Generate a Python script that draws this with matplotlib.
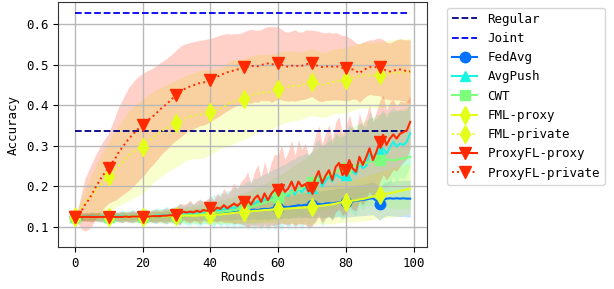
import numpy as np
import matplotlib
matplotlib.use("Agg")
import matplotlib.pyplot as plt

plt.rcParams["font.family"] = "DejaVu Sans Mono"
plt.rcParams["font.size"] = 9

rounds = np.arange(100)

regular_acc = 0.337
joint_acc = 0.627

fedavg_mean = [
    0.125, 0.125, 0.124, 0.125, 0.125, 0.126, 0.125, 0.125, 0.125, 0.126,
    0.125, 0.125, 0.126, 0.125, 0.126, 0.126, 0.125, 0.126, 0.126, 0.126,
    0.126, 0.126, 0.127, 0.126, 0.127, 0.127, 0.127, 0.128, 0.127, 0.128,
    0.128, 0.128, 0.129, 0.128, 0.129, 0.130, 0.130, 0.131, 0.131, 0.132,
    0.133, 0.134, 0.133, 0.135, 0.136, 0.137, 0.136, 0.138, 0.139, 0.140,
    0.141, 0.140, 0.142, 0.143, 0.142, 0.144, 0.145, 0.144, 0.146, 0.147,
    0.147, 0.148, 0.150, 0.149, 0.151, 0.152, 0.154, 0.153, 0.155, 0.154,
    0.154, 0.156, 0.157, 0.156, 0.158, 0.159, 0.158, 0.160, 0.161, 0.160,
    0.161, 0.162, 0.163, 0.165, 0.166, 0.167, 0.168, 0.170, 0.171, 0.165,
    0.158, 0.166, 0.170, 0.171, 0.170, 0.171, 0.170, 0.171, 0.170, 0.170]
fedavg_std = [
    0.006, 0.007, 0.008, 0.007, 0.008, 0.007, 0.008, 0.009, 0.008, 0.009,
    0.008, 0.009, 0.010, 0.009, 0.010, 0.009, 0.010, 0.011, 0.010, 0.011,
    0.010, 0.011, 0.012, 0.011, 0.012, 0.011, 0.012, 0.013, 0.012, 0.013,
    0.012, 0.013, 0.014, 0.013, 0.014, 0.014, 0.015, 0.015, 0.016, 0.016,
    0.016, 0.017, 0.017, 0.018, 0.018, 0.019, 0.019, 0.020, 0.020, 0.021,
    0.021, 0.022, 0.022, 0.023, 0.023, 0.024, 0.024, 0.025, 0.025, 0.026,
    0.026, 0.027, 0.027, 0.028, 0.028, 0.029, 0.029, 0.030, 0.030, 0.031,
    0.031, 0.032, 0.032, 0.033, 0.033, 0.034, 0.034, 0.035, 0.035, 0.036,
    0.036, 0.037, 0.037, 0.038, 0.038, 0.039, 0.039, 0.040, 0.040, 0.041,
    0.041, 0.042, 0.042, 0.043, 0.043, 0.044, 0.044, 0.045, 0.045, 0.046]

avgpush_mean = [
    0.125, 0.126, 0.125, 0.126, 0.125, 0.126, 0.126, 0.125, 0.126, 0.126,
    0.126, 0.126, 0.127, 0.126, 0.127, 0.127, 0.126, 0.127, 0.127, 0.128,
    0.127, 0.128, 0.128, 0.127, 0.128, 0.129, 0.128, 0.129, 0.130, 0.129,
    0.130, 0.131, 0.132, 0.131, 0.133, 0.134, 0.133, 0.136, 0.135, 0.138,
    0.140, 0.138, 0.143, 0.141, 0.146, 0.143, 0.149, 0.146, 0.152, 0.150,
    0.155, 0.153, 0.160, 0.156, 0.165, 0.160, 0.170, 0.163, 0.175, 0.168,
    0.175, 0.172, 0.182, 0.176, 0.190, 0.180, 0.195, 0.185, 0.198, 0.186,
    0.196, 0.210, 0.226, 0.200, 0.213, 0.226, 0.212, 0.230, 0.224, 0.220,
    0.228, 0.249, 0.236, 0.230, 0.257, 0.245, 0.250, 0.281, 0.273, 0.268,
    0.285, 0.294, 0.281, 0.296, 0.310, 0.298, 0.306, 0.302, 0.310, 0.331]
avgpush_std = [
    0.008, 0.010, 0.012, 0.009, 0.011, 0.013, 0.010, 0.012, 0.014, 0.011,
    0.012, 0.015, 0.011, 0.013, 0.016, 0.012, 0.014, 0.017, 0.013, 0.016,
    0.014, 0.018, 0.013, 0.016, 0.020, 0.015, 0.018, 0.022, 0.016, 0.020,
    0.022, 0.028, 0.020, 0.025, 0.030, 0.022, 0.028, 0.034, 0.025, 0.030,
    0.034, 0.042, 0.032, 0.044, 0.036, 0.048, 0.040, 0.052, 0.044, 0.054,
    0.050, 0.060, 0.052, 0.064, 0.056, 0.068, 0.060, 0.072, 0.064, 0.076,
    0.070, 0.080, 0.072, 0.084, 0.076, 0.088, 0.080, 0.092, 0.084, 0.094,
    0.088, 0.098, 0.090, 0.100, 0.092, 0.102, 0.094, 0.104, 0.096, 0.104,
    0.098, 0.106, 0.100, 0.104, 0.098, 0.104, 0.096, 0.102, 0.094, 0.098,
    0.092, 0.096, 0.088, 0.092, 0.086, 0.088, 0.082, 0.084, 0.080, 0.078]

cwt_mean = [
    0.125, 0.124, 0.125, 0.125, 0.124, 0.125, 0.125, 0.125, 0.124, 0.125,
    0.125, 0.125, 0.124, 0.125, 0.125, 0.125, 0.126, 0.125, 0.125, 0.126,
    0.126, 0.126, 0.125, 0.126, 0.126, 0.127, 0.126, 0.127, 0.127, 0.128,
    0.128, 0.128, 0.129, 0.129, 0.130, 0.130, 0.131, 0.132, 0.132, 0.133,
    0.134, 0.135, 0.136, 0.136, 0.138, 0.139, 0.140, 0.142, 0.143, 0.145,
    0.147, 0.148, 0.150, 0.152, 0.155, 0.157, 0.160, 0.163, 0.166, 0.170,
    0.174, 0.176, 0.179, 0.183, 0.186, 0.190, 0.193, 0.197, 0.201, 0.205,
    0.212, 0.214, 0.218, 0.221, 0.224, 0.228, 0.232, 0.236, 0.240, 0.243,
    0.246, 0.248, 0.250, 0.252, 0.254, 0.256, 0.258, 0.260, 0.262, 0.264,
    0.265, 0.266, 0.265, 0.266, 0.264, 0.266, 0.268, 0.269, 0.271, 0.273]
cwt_std = [
    0.007, 0.008, 0.009, 0.008, 0.009, 0.010, 0.009, 0.010, 0.011, 0.010,
    0.011, 0.012, 0.011, 0.012, 0.013, 0.012, 0.013, 0.014, 0.013, 0.014,
    0.014, 0.015, 0.014, 0.016, 0.015, 0.017, 0.016, 0.018, 0.017, 0.019,
    0.019, 0.021, 0.020, 0.022, 0.021, 0.023, 0.022, 0.024, 0.024, 0.026,
    0.026, 0.028, 0.027, 0.030, 0.029, 0.032, 0.031, 0.034, 0.034, 0.037,
    0.037, 0.040, 0.040, 0.043, 0.043, 0.046, 0.046, 0.049, 0.050, 0.053,
    0.053, 0.056, 0.057, 0.060, 0.061, 0.064, 0.065, 0.068, 0.069, 0.072,
    0.073, 0.076, 0.077, 0.080, 0.081, 0.084, 0.085, 0.088, 0.089, 0.092,
    0.093, 0.096, 0.097, 0.100, 0.101, 0.104, 0.105, 0.108, 0.109, 0.112,
    0.113, 0.115, 0.116, 0.118, 0.119, 0.121, 0.122, 0.124, 0.125, 0.127]

fml_proxy_mean = [
    0.125, 0.125, 0.125, 0.124, 0.125, 0.125, 0.125, 0.125, 0.125, 0.125,
    0.125, 0.125, 0.125, 0.125, 0.125, 0.126, 0.125, 0.126, 0.126, 0.126,
    0.126, 0.126, 0.126, 0.126, 0.127, 0.127, 0.127, 0.127, 0.127, 0.127,
    0.127, 0.127, 0.128, 0.128, 0.128, 0.128, 0.128, 0.129, 0.129, 0.129,
    0.130, 0.130, 0.131, 0.131, 0.132, 0.133, 0.134, 0.135, 0.136, 0.137,
    0.138, 0.138, 0.139, 0.140, 0.140, 0.141, 0.142, 0.142, 0.143, 0.144,
    0.144, 0.145, 0.145, 0.146, 0.146, 0.147, 0.147, 0.148, 0.148, 0.149,
    0.150, 0.151, 0.152, 0.153, 0.154, 0.155, 0.156, 0.158, 0.160, 0.161,
    0.163, 0.164, 0.165, 0.166, 0.168, 0.169, 0.171, 0.173, 0.175, 0.177,
    0.179, 0.180, 0.182, 0.184, 0.185, 0.187, 0.189, 0.191, 0.193, 0.195]
fml_proxy_std = [
    0.006, 0.007, 0.006, 0.007, 0.007, 0.008, 0.007, 0.008, 0.008, 0.008,
    0.008, 0.009, 0.008, 0.009, 0.009, 0.010, 0.009, 0.010, 0.010, 0.010,
    0.011, 0.011, 0.011, 0.012, 0.012, 0.012, 0.013, 0.013, 0.013, 0.014,
    0.014, 0.015, 0.015, 0.016, 0.016, 0.017, 0.017, 0.018, 0.018, 0.019,
    0.019, 0.020, 0.021, 0.021, 0.022, 0.023, 0.023, 0.024, 0.025, 0.026,
    0.026, 0.027, 0.028, 0.029, 0.030, 0.030, 0.031, 0.032, 0.033, 0.034,
    0.035, 0.035, 0.036, 0.037, 0.038, 0.039, 0.040, 0.040, 0.041, 0.042,
    0.043, 0.044, 0.044, 0.045, 0.046, 0.047, 0.048, 0.048, 0.049, 0.050,
    0.051, 0.051, 0.052, 0.053, 0.054, 0.054, 0.055, 0.056, 0.056, 0.057,
    0.058, 0.058, 0.059, 0.060, 0.060, 0.061, 0.061, 0.062, 0.062, 0.063]

fml_private_mean = [
    0.125, 0.135, 0.146, 0.158, 0.168, 0.178, 0.188, 0.198, 0.207, 0.216,
    0.225, 0.234, 0.243, 0.252, 0.260, 0.268, 0.276, 0.283, 0.289, 0.294,
    0.298, 0.306, 0.313, 0.320, 0.326, 0.332, 0.337, 0.342, 0.347, 0.351,
    0.355, 0.360, 0.365, 0.369, 0.372, 0.374, 0.376, 0.377, 0.378, 0.381,
    0.384, 0.386, 0.389, 0.392, 0.396, 0.401, 0.406, 0.409, 0.411, 0.413,
    0.415, 0.419, 0.423, 0.427, 0.429, 0.430, 0.432, 0.432, 0.434, 0.437,
    0.440, 0.443, 0.445, 0.446, 0.447, 0.448, 0.447, 0.449, 0.452, 0.455,
    0.456, 0.455, 0.452, 0.450, 0.451, 0.454, 0.457, 0.459, 0.460, 0.461,
    0.462, 0.464, 0.467, 0.470, 0.472, 0.473, 0.474, 0.473, 0.474, 0.474,
    0.475, 0.476, 0.478, 0.478, 0.479, 0.481, 0.480, 0.481, 0.482, 0.483]
fml_private_std = [
    0.005, 0.015, 0.025, 0.035, 0.044, 0.052, 0.060, 0.067, 0.074, 0.080,
    0.085, 0.090, 0.095, 0.099, 0.103, 0.107, 0.110, 0.112, 0.114, 0.115,
    0.116, 0.115, 0.114, 0.112, 0.111, 0.110, 0.109, 0.108, 0.108, 0.107,
    0.107, 0.106, 0.105, 0.104, 0.105, 0.106, 0.107, 0.108, 0.108, 0.106,
    0.105, 0.103, 0.101, 0.099, 0.100, 0.102, 0.104, 0.103, 0.101, 0.100,
    0.100, 0.099, 0.098, 0.097, 0.096, 0.095, 0.094, 0.093, 0.092, 0.091,
    0.090, 0.089, 0.088, 0.087, 0.086, 0.085, 0.084, 0.083, 0.083, 0.082,
    0.082, 0.081, 0.081, 0.080, 0.080, 0.080, 0.080, 0.080, 0.080, 0.080,
    0.080, 0.080, 0.080, 0.080, 0.080, 0.081, 0.081, 0.081, 0.081, 0.081,
    0.081, 0.081, 0.082, 0.082, 0.082, 0.082, 0.082, 0.082, 0.082, 0.082]

proxyfl_proxy_mean = [
    0.125, 0.125, 0.125, 0.125, 0.125, 0.125, 0.125, 0.125, 0.125, 0.125,
    0.125, 0.125, 0.125, 0.125, 0.125, 0.126, 0.125, 0.126, 0.126, 0.126,
    0.126, 0.126, 0.126, 0.127, 0.127, 0.127, 0.128, 0.128, 0.129, 0.129,
    0.130, 0.132, 0.138, 0.136, 0.138, 0.136, 0.140, 0.137, 0.142, 0.140,
    0.146, 0.140, 0.148, 0.145, 0.154, 0.146, 0.152, 0.158, 0.152, 0.160,
    0.162, 0.168, 0.155, 0.170, 0.178, 0.162, 0.183, 0.166, 0.182, 0.192,
    0.191, 0.206, 0.187, 0.195, 0.212, 0.190, 0.212, 0.200, 0.206, 0.188,
    0.196, 0.220, 0.238, 0.208, 0.226, 0.240, 0.216, 0.248, 0.258, 0.228,
    0.240, 0.265, 0.245, 0.236, 0.273, 0.253, 0.272, 0.294, 0.265, 0.285,
    0.310, 0.327, 0.302, 0.318, 0.328, 0.318, 0.330, 0.334, 0.338, 0.359]
proxyfl_proxy_std = [
    0.008, 0.010, 0.009, 0.011, 0.010, 0.012, 0.010, 0.011, 0.012, 0.010,
    0.011, 0.013, 0.010, 0.012, 0.014, 0.011, 0.013, 0.015, 0.012, 0.014,
    0.013, 0.016, 0.012, 0.015, 0.017, 0.013, 0.016, 0.019, 0.015, 0.018,
    0.020, 0.026, 0.018, 0.022, 0.028, 0.020, 0.025, 0.030, 0.022, 0.027,
    0.030, 0.026, 0.036, 0.030, 0.042, 0.034, 0.040, 0.050, 0.042, 0.052,
    0.058, 0.068, 0.052, 0.066, 0.076, 0.060, 0.080, 0.064, 0.078, 0.088,
    0.085, 0.096, 0.080, 0.090, 0.102, 0.086, 0.104, 0.092, 0.100, 0.088,
    0.094, 0.106, 0.112, 0.098, 0.104, 0.112, 0.100, 0.110, 0.114, 0.100,
    0.104, 0.112, 0.102, 0.096, 0.108, 0.098, 0.100, 0.106, 0.094, 0.098,
    0.100, 0.098, 0.086, 0.090, 0.086, 0.080, 0.080, 0.074, 0.070, 0.064]

proxyfl_private_mean = [
    0.125, 0.128, 0.140, 0.155, 0.166, 0.180, 0.196, 0.210, 0.224, 0.235,
    0.245, 0.258, 0.270, 0.285, 0.296, 0.307, 0.318, 0.327, 0.336, 0.344,
    0.351, 0.358, 0.366, 0.372, 0.380, 0.388, 0.396, 0.402, 0.410, 0.418,
    0.425, 0.432, 0.438, 0.443, 0.446, 0.449, 0.452, 0.455, 0.456, 0.459,
    0.462, 0.466, 0.470, 0.474, 0.478, 0.481, 0.483, 0.486, 0.488, 0.490,
    0.493, 0.495, 0.496, 0.497, 0.496, 0.499, 0.501, 0.503, 0.500, 0.502,
    0.504, 0.500, 0.496, 0.495, 0.497, 0.498, 0.496, 0.497, 0.500, 0.502,
    0.503, 0.499, 0.496, 0.494, 0.495, 0.496, 0.495, 0.496, 0.494, 0.492,
    0.491, 0.489, 0.488, 0.484, 0.479, 0.485, 0.490, 0.494, 0.493, 0.494,
    0.494, 0.489, 0.485, 0.483, 0.485, 0.487, 0.488, 0.486, 0.484, 0.483]
proxyfl_private_std = [
    0.005, 0.020, 0.045, 0.065, 0.072, 0.077, 0.079, 0.081, 0.083, 0.084,
    0.086, 0.095, 0.104, 0.112, 0.117, 0.122, 0.127, 0.128, 0.129, 0.128,
    0.127, 0.125, 0.121, 0.119, 0.117, 0.115, 0.113, 0.112, 0.111, 0.110,
    0.111, 0.112, 0.111, 0.109, 0.108, 0.107, 0.106, 0.105, 0.105, 0.104,
    0.102, 0.101, 0.100, 0.099, 0.097, 0.095, 0.092, 0.090, 0.088, 0.087,
    0.088, 0.089, 0.091, 0.088, 0.089, 0.087, 0.090, 0.091, 0.093, 0.091,
    0.089, 0.087, 0.085, 0.085, 0.086, 0.088, 0.084, 0.083, 0.085, 0.083,
    0.082, 0.084, 0.086, 0.085, 0.083, 0.084, 0.082, 0.083, 0.081, 0.080,
    0.080, 0.077, 0.073, 0.069, 0.072, 0.070, 0.068, 0.067, 0.068, 0.070,
    0.071, 0.073, 0.070, 0.070, 0.072, 0.074, 0.076, 0.075, 0.077, 0.078]

# name, mean, std, colour, marker, linestyle
series = [
    ("FedAvg", fedavg_mean, fedavg_std, "#0072ff", "o", "-"),
    ("AvgPush", avgpush_mean, avgpush_std, "#1af5e3", "^", "-"),
    ("CWT", cwt_mean, cwt_std, "#7dff7d", "s", "-"),
    ("FML-proxy", fml_proxy_mean, fml_proxy_std, "#e3ff1a", "d", "-"),
    ("FML-private", fml_private_mean, fml_private_std, "#e3ff1a", "d", ":"),
    ("ProxyFL-proxy", proxyfl_proxy_mean, proxyfl_proxy_std, "#ff2a00", "v", "-"),
    ("ProxyFL-private", proxyfl_private_mean, proxyfl_private_std, "#ff2a00", "v", ":"),
]
marker_sizes = {"o": 7.5, "^": 7.5, "s": 6.5, "d": 9, "v": 8.5}

fig, ax = plt.subplots(figsize=(6.14, 2.89), dpi=100)
fig.subplots_adjust(left=0.0945, right=0.6954, top=0.993, bottom=0.1453)

ax.plot(rounds, np.full(len(rounds), regular_acc), "--", color="#000080",
        lw=1.3, label="Regular")
ax.plot(rounds, np.full(len(rounds), joint_acc), "--", color="#0000f0",
        lw=1.3, label="Joint")

for name, mean, std, color, marker, ls in series:
    mean = np.array(mean)
    std = np.array(std)
    ax.fill_between(rounds, mean - std, mean + std, color=color, alpha=0.22,
                    lw=0)
    ax.plot(rounds, mean, linestyle=ls, color=color,
            lw=1.5 if ls == "-" else 1.4, marker=marker,
            markersize=marker_sizes[marker], markevery=10, label=name)

ax.set_xlabel("Rounds", labelpad=1)
ax.set_ylabel("Accuracy")
ax.set_xticks([0, 20, 40, 60, 80, 100])
ax.set_yticks([0.1, 0.2, 0.3, 0.4, 0.5, 0.6])
ax.set_ylim(0.051, 0.654)
ax.grid(True, color="#b8b8b8", lw=1.0)
for sp in ax.spines.values():
    sp.set_color("#333333")
ax.legend(loc="upper left", bbox_to_anchor=(1.055, 0.977), borderaxespad=0,
          fontsize=9)

fig.savefig("out.png", dpi=100)
